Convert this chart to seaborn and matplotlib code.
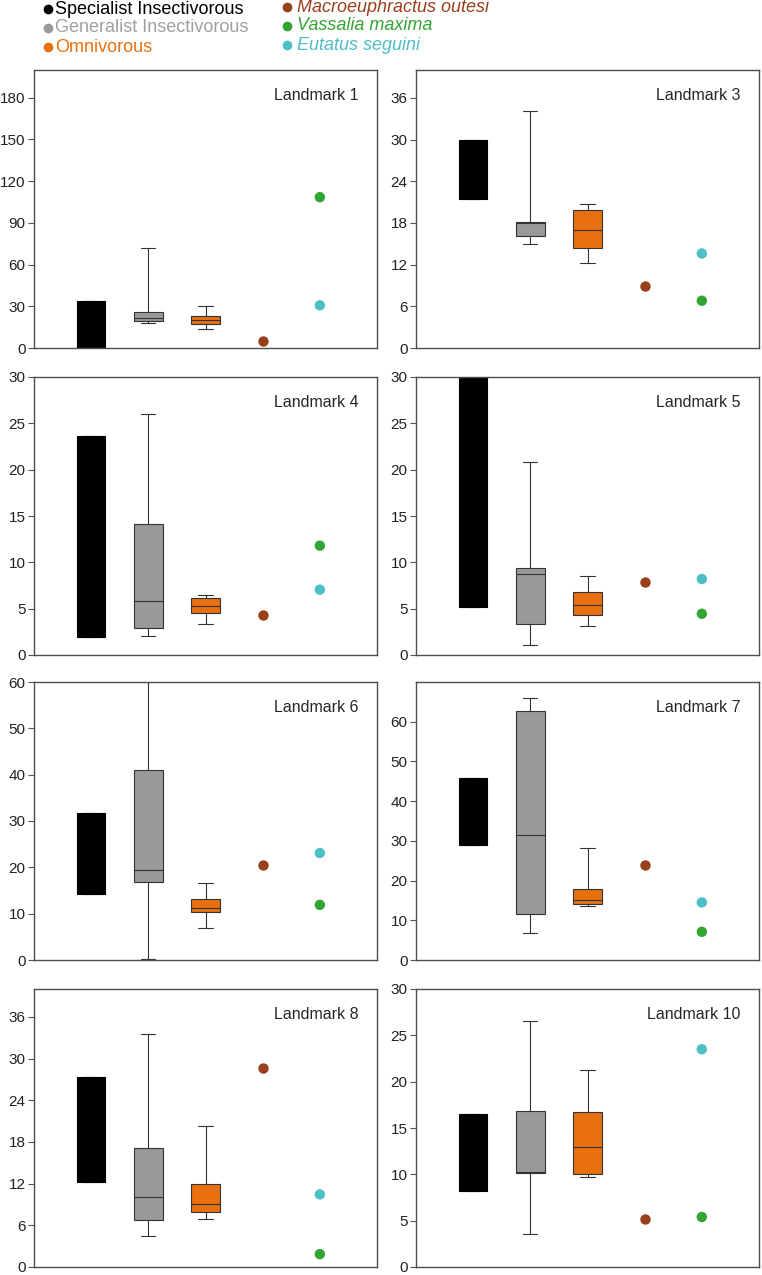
import numpy as np
import pandas as pd
import matplotlib.pyplot as plt
from matplotlib.lines import Line2D
import seaborn as sns

# -----------------------------
# Data
# -----------------------------
groups = ["Specialist Insectivorous", "Generalist Insectivorous", "Omnivorous"]
species = ["Macroeuphractus outesi", "Vassalia maxima", "Eutatus seguini"]
# Vassalia and Eutatus are drawn in the same column
species_slot = ["Macroeuphractus", "Vassalia/Eutatus", "Vassalia/Eutatus"]
slots = groups + ["Macroeuphractus", "Vassalia/Eutatus"]

group_colors = ["#000000", "#999999", "#E8700F"]
species_colors = ["#9A3F1C", "#33A532", "#4DBFC6"]
legend_text_colors = ["#000000", "#A0A0A0", "#E8700F"]

# five-number summaries per diet group: min, q1, median, q3, max
lm1_boxes = [[0, 0, 17, 33.5, 33.5], [18, 19.7, 21.6, 25.9, 72], [14, 17.3, 20.2, 23, 30]]
lm1_points = [4.8, 108.5, 30.7]

lm3_boxes = [[21.4, 21.4, 25, 29.9, 29.9], [15, 16.1, 18.0, 18.2, 34.1], [12.2, 14.4, 17, 19.8, 20.7]]
lm3_points = [8.9, 6.8, 13.6]

lm4_boxes = [[1.9, 1.9, 12, 23.6, 23.6], [2.0, 2.9, 5.8, 14.1, 26.0], [3.3, 4.5, 5.25, 6.1, 6.5]]
lm4_points = [4.3, 11.8, 7.05]

lm5_boxes = [[5.2, 5.2, 18, 30, 30], [1.1, 3.3, 8.7, 9.4, 20.8], [3.1, 4.3, 5.4, 6.8, 8.5]]
lm5_points = [7.9, 4.45, 8.2]

lm6_boxes = [[14.2, 14.2, 23, 31.7, 31.7], [0.3, 16.8, 19.4, 41.1, 60], [7.0, 10.4, 11.2, 13.1, 16.7]]
lm6_points = [20.5, 11.9, 23.1]

lm7_boxes = [[28.9, 28.9, 37, 45.9, 45.9], [6.8, 11.5, 31.5, 62.6, 66], [13.6, 14.1, 15.2, 17.8, 28.3]]
lm7_points = [23.8, 7.1, 14.5]

lm8_boxes = [[12.2, 12.2, 20, 27.4, 27.4], [4.4, 6.7, 10.1, 17.1, 33.5], [6.9, 7.9, 9.0, 12.0, 20.3]]
lm8_points = [28.6, 1.85, 10.45]

lm10_boxes = [[8.25, 8.25, 12, 16.5, 16.5], [3.6, 10.1, 10.2, 16.8, 26.5], [9.7, 10.0, 12.95, 16.7, 21.3]]
lm10_points = [5.2, 5.4, 23.5]

panels = [
    ("Landmark 1", lm1_boxes, lm1_points, 200, np.arange(0, 181, 30)),
    ("Landmark 3", lm3_boxes, lm3_points, 40, np.arange(0, 37, 6)),
    ("Landmark 4", lm4_boxes, lm4_points, 30, np.arange(0, 31, 5)),
    ("Landmark 5", lm5_boxes, lm5_points, 30, np.arange(0, 31, 5)),
    ("Landmark 6", lm6_boxes, lm6_points, 60, np.arange(0, 61, 10)),
    ("Landmark 7", lm7_boxes, lm7_points, 70, np.arange(0, 61, 10)),
    ("Landmark 8", lm8_boxes, lm8_points, 40, np.arange(0, 37, 6)),
    ("Landmark 10", lm10_boxes, lm10_points, 30, np.arange(0, 31, 5)),
]

# -----------------------------
# Style
# -----------------------------
sns.set_style("ticks")
plt.rcParams['font.family'] = ['Liberation Sans', 'DejaVu Sans']

W, H = 762, 1275
fig = plt.figure(figsize=(W / 100, H / 100), dpi=100)

col_left = [34, 416]
row_top = [70, 377, 682, 989]
aw, ah = 343, 278

box_kws = dict(x="group", y="value", order=slots, hue="group", hue_order=groups,
               palette=group_colors, width=0.5, whis=(0, 100), linewidth=0.8,
               saturation=1, fliersize=0, legend=False)

for k, (title, boxes, points, ymax, ticks) in enumerate(panels):
    r, c = divmod(k, 2)
    ax = fig.add_axes([col_left[c] / W, 1 - (row_top[r] + ah) / H, aw / W, ah / H])

    box_df = pd.DataFrame({"group": np.repeat(groups, 5), "value": np.concatenate(boxes)})
    # specialist box drawn all black (no visible median), the others with dark outlines
    sns.boxplot(data=box_df[box_df.group == groups[0]], linecolor="#000000", ax=ax, **box_kws)
    sns.boxplot(data=box_df[box_df.group != groups[0]], linecolor="#333333", ax=ax, **box_kws)

    pt_df = pd.DataFrame({"slot": species_slot, "species": species, "value": points})
    sns.stripplot(data=pt_df, x="slot", y="value", order=slots, hue="species",
                  hue_order=species, palette=species_colors, jitter=False, dodge=False,
                  size=7.5, linewidth=0, legend=False, ax=ax, zorder=3)

    ax.set_xlim(-1, 5)
    ax.set_ylim(0, ymax)
    ax.set_yticks(ticks)
    ax.set_xticks([])
    ax.set_xlabel("")
    ax.set_ylabel("")
    ax.tick_params(axis='y', length=4, width=0.8, color="#555555", labelsize=11,
                   labelcolor="#222222", pad=2)
    for s in ax.spines.values():
        s.set_visible(True)
        s.set_color("#4d4d4d")
        s.set_linewidth(1)
    ax.text(0.945, 0.91, title, transform=ax.transAxes, ha='right', va='center', fontsize=11.5)

# -----------------------------
# Legend at the top
# -----------------------------
left_rows = [9, 28, 47]
for label, dot_c, txt_c, y in zip(groups, group_colors, legend_text_colors, left_rows):
    fig.add_artist(Line2D([48 / W], [1 - y / H], marker='o', ms=6, color=dot_c,
                          transform=fig.transFigure))
    fig.text(55 / W, 1 - y / H, label, color=txt_c, fontsize=13, va='center')

right_rows = [7, 26, 45]
for label, col, y in zip(species, species_colors, right_rows):
    fig.add_artist(Line2D([287 / W], [1 - y / H], marker='o', ms=6, color=col,
                          transform=fig.transFigure))
    fig.text(297 / W, 1 - y / H, label, color=col, fontsize=13, va='center', style='italic')

fig.savefig("out.png", dpi=100)
